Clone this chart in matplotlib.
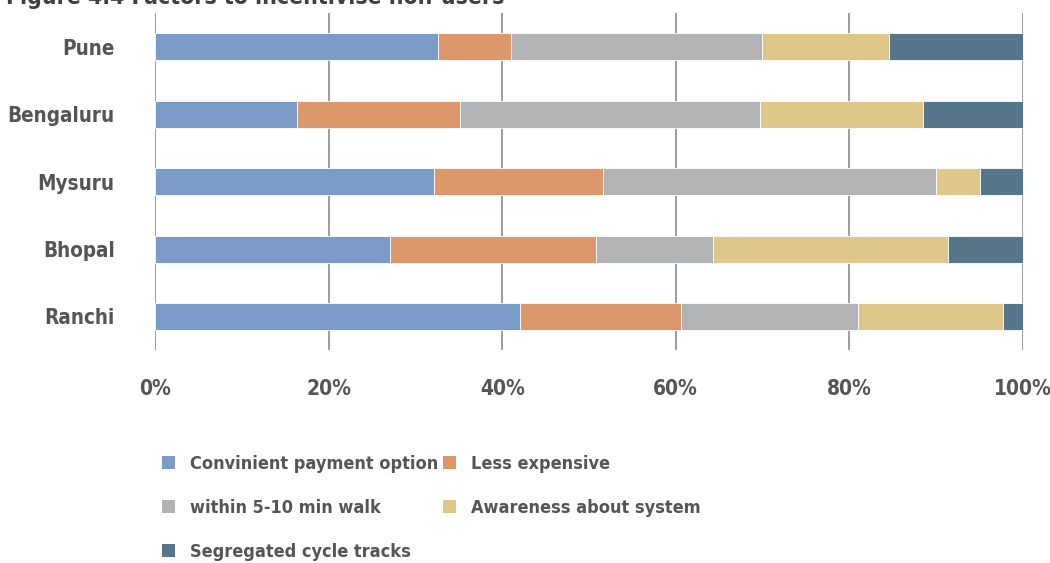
import numpy as np
import matplotlib.pyplot as plt
from matplotlib.patches import Patch
from matplotlib import font_manager as fm

cities = ['Pune', 'Bengaluru', 'Mysuru', 'Bhopal', 'Ranchi']
factors = ['Convinient payment option', 'Less expensive', 'within 5-10 min walk',
           'Awareness about system', 'Segregated cycle tracks']
# share of responses (%) per city
payment = [32.6, 16.4, 32.2, 27.1, 42.1]
cheaper = [8.4, 18.7, 19.4, 23.7, 18.5]
walk = [28.9, 34.6, 38.4, 13.5, 20.4]
awareness = [14.7, 18.8, 5.0, 27.1, 16.7]
tracks = [15.4, 11.5, 5.0, 8.6, 2.3]
colors = ['#7b9bc8', '#dc976a', '#b2b3b4', '#dfc78a', '#56768c']

txt = '#555555'


def font(size):
    return fm.FontProperties(family='DejaVu Sans', weight='bold', stretch='condensed', size=size)


fig = plt.figure(figsize=(10.5, 5.63), dpi=100)
ax = fig.add_axes([0.1476, 0.378, 0.8267, 0.599])

y = np.arange(len(cities))
left = np.zeros(len(cities))
for vals, c in zip([payment, cheaper, walk, awareness, tracks], colors):
    ax.barh(y, vals, left=left, height=0.4, color=c, edgecolor='white', linewidth=0.6, zorder=3)
    left += np.array(vals)

ax.set_xlim(0, 100)
ax.set_ylim(4.5, -0.5)
ax.set_xticks(range(0, 101, 20))
ax.set_xticklabels([f'{v}%' for v in range(0, 101, 20)])
ax.set_yticks(y)
ax.set_yticklabels(cities)
ax.grid(axis='x', color='#8c8c8c', linewidth=1.2, zorder=0)
for s in ax.spines.values():
    s.set_visible(False)
ax.tick_params(length=0)
ax.tick_params(axis='x', pad=21)
ax.tick_params(axis='y', pad=29)
for lab in ax.get_xticklabels():
    lab.set_fontproperties(font(15))
    lab.set_color(txt)
for lab in ax.get_yticklabels():
    lab.set_fontproperties(font(14.8))
    lab.set_color(txt)

# title is clipped at the top edge, as in the source figure
fig.text(0.006, 1 - 4 / 563, 'Figure 4.4 Factors to incentivise non-users', ha='left', va='baseline',
         fontproperties=font(16.5), color='#404040')

handles = [Patch(facecolor=c, edgecolor='none') for c in colors]
order = [0, 2, 4, 1, 3]
leg = fig.legend([handles[i] for i in order], [factors[i] for i in order], ncol=2,
                 loc='upper left', bbox_to_anchor=(0.147, 0.205), frameon=False,
                 prop=font(13), handlelength=0.72, handleheight=0.72, handletextpad=0.85,
                 columnspacing=0.25, labelspacing=1.45, borderaxespad=0)
for t in leg.get_texts():
    t.set_color(txt)

fig.savefig('out.png', dpi=100)
